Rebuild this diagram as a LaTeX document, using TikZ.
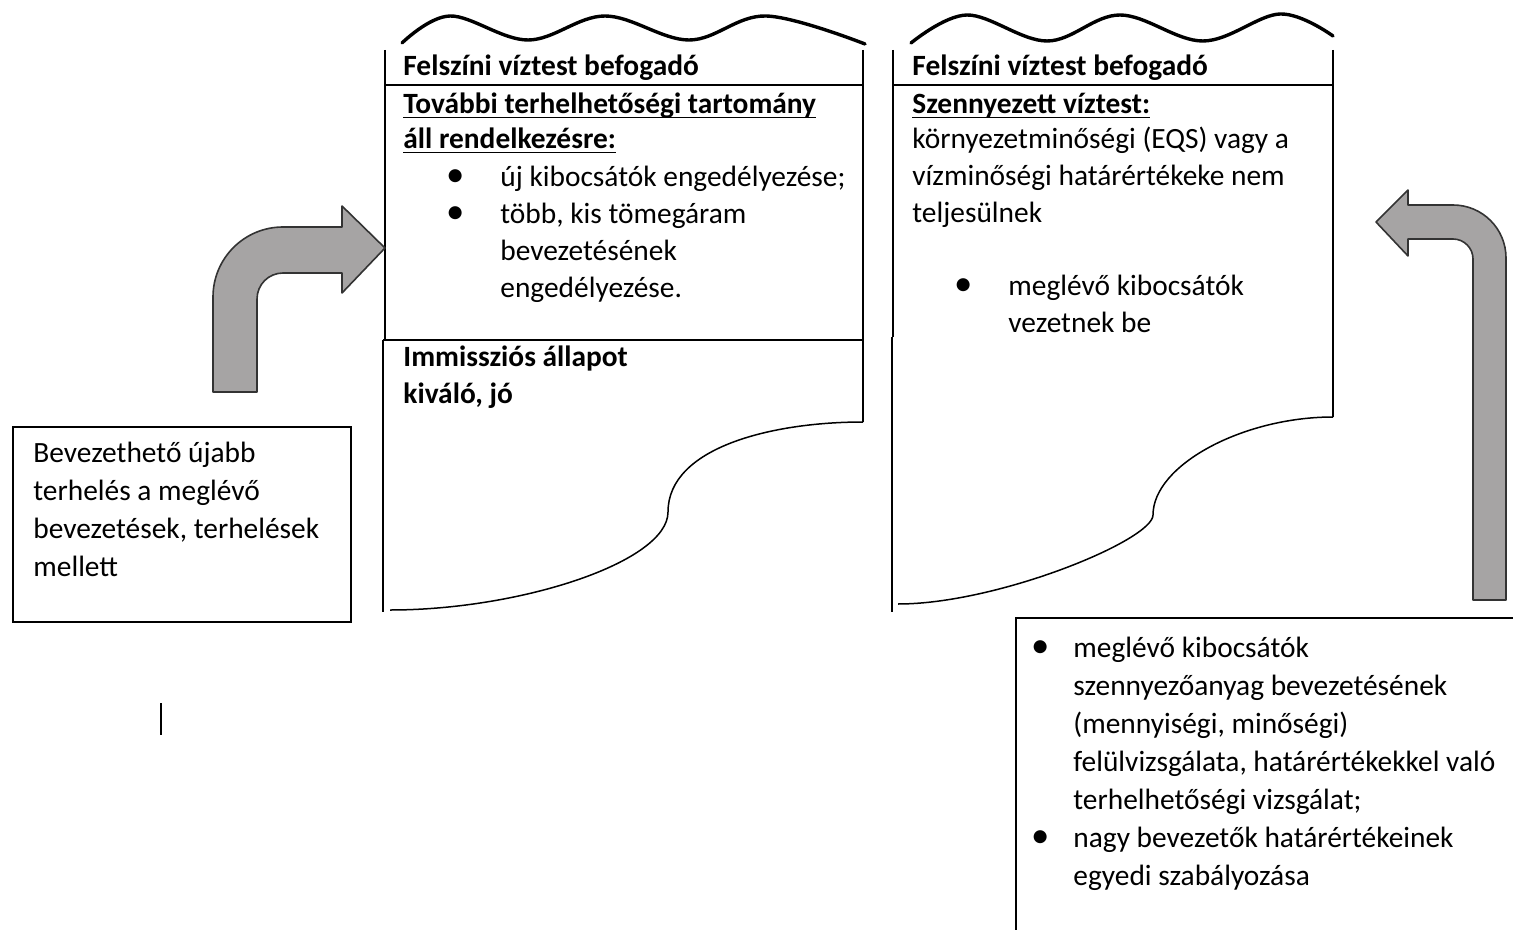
\documentclass[tikz,border=0pt]{standalone}
\usepackage{fontspec}
\setmainfont{Carlito}
\usetikzlibrary{positioning}

\definecolor{arrowgray}{RGB}{166,164,164}
\newcommand{\bul}[1]{\llap{\scalebox{1.25}{\textbullet}\hspace{#1}}}
\newcommand{\undl}[1]{\setbox0\hbox{#1}\rlap{\rule[-2.5pt]{\wd0}{0.9pt}}\box0}

\tikzset{
  doctext/.style={anchor=north west, inner sep=0pt, align=left, font=\fontsize{14.7}{18.5}\selectfont},
  boxtext/.style={doctext, font=\fontsize{14.7}{19}\selectfont},
  docline/.style={line width=0.75pt},
  waveline/.style={line width=1.7pt, line cap=round},
  bigarrow/.style={fill=arrowgray, draw=black!80, line width=0.8pt, line join=round},
}

\begin{document}
\begin{tikzpicture}[x=0.5pt, y=-0.5pt]
	\useasboundingbox (0,0) rectangle (1513,930);

	% left water body
	\draw[waveline] plot[smooth, tension=0.6] coordinates {(402,43) (450,16) (528,40) (605,16) (689,40) (766,16) (865,44)};
	\draw[docline] (385,50) -- (385,340);
	\draw[docline] (383,340) -- (383,612);
	\draw[docline] (863,50) -- (863,422);
	\draw[docline] (385,85) -- (863,85);
	\draw[docline] (383,340) -- (863,340);
	\draw[docline] (863,422) .. controls (773,422) and (668,447) .. (668,512)
	  .. controls (668,562) and (520,610) .. (390,610);

	\node[doctext] (headL) at (403,49.1) {\strut\textbf{Felszíni víztest befogadó}};
	\node[doctext] (capL) at (403,87.1) {\strut\undl{\textbf{További terhelhetőségi tartomány}}\\[-1pt]
	  \undl{\textbf{áll rendelkezésre:}}};
	\node[doctext] (listL) at (500,160.6) {\strut\bul{18pt}új kibocsátók engedélyezése;\\
	  \bul{18pt}több, kis tömegáram\\ bevezetésének\\ engedélyezése.};
	\node[doctext] (stateL) at (403,340.1) {\strut\textbf{Immissziós állapot}\\ \textbf{kiváló, jó}};

	% right water body
	\draw[waveline] plot[smooth, tension=0.6] coordinates {(911,43) (967,15) (1047,41) (1120,15) (1203,41) (1280,14) (1333,36)};
	\draw[docline] (893,50) -- (893,337);
	\draw[docline] (892,337) -- (892,612);
	\draw[docline] (1333,50) -- (1333,417);
	\draw[docline] (893,85) -- (1333,85);
	\draw[docline] (1333,417) .. controls (1243,417) and (1153,465) .. (1153,515)
	  .. controls (1153,540) and (998,604) .. (898,604);

	\node[doctext] (headR) at (912,49.1) {\strut\textbf{Felszíni víztest befogadó}};
	\node[doctext] (capR) at (912,87.1) {\strut\undl{\textbf{Szennyezett víztest:}}\\[-1pt]
	  környezetminőségi (EQS) vagy a\\ vízminőségi határértékeke nem\\ teljesülnek};
	\node[doctext] (listR) at (1008,269.1) {\strut\bul{18pt}meglévő kibocsátók\\ vezetnek be};

	% bent arrows
	\draw[bigarrow] (213,392) -- (213,297) .. controls (213,258.3) and (244.3,227) .. (283,227)
	  -- (342,227) -- (342,206) -- (385,248) -- (342,293) -- (342,273) -- (283,273)
	  .. controls (268.6,273) and (257,284.6) .. (257,299) -- (257,392) -- cycle;
	\draw[bigarrow] (1506,600) -- (1506,258) .. controls (1506,228.7) and (1482.3,205) .. (1453,205)
	  -- (1408,205) -- (1408,190) -- (1376,222) -- (1408,256) -- (1408,239) -- (1453,239)
	  .. controls (1464,239) and (1473,248) .. (1473,259) -- (1473,600) -- cycle;

	% text boxes
	\draw[docline] (13,427) rectangle (351,622);
	\node[boxtext] (loadL) at (33,435.4) {\strut Bevezethető újabb\\ terhelés a meglévő\\
	  bevezetések, terhelések\\ mellett};
	\draw[docline] (1513,618) -- (1016,618) -- (1016,930);
	\node[boxtext] (tasksR) at (1073,630.4) {\strut\bul{12pt}meglévő kibocsátók\\
	  szennyezőanyag bevezetésének\\ (mennyiségi, minőségi)\\
	  felülvizsgálata, határértékekkel való\\ terhelhetőségi vizsgálat;\\
	  \bul{12pt}nagy bevezetők határértékeinek\\ egyedi szabályozása};

	\draw[docline] (161,703) -- (161,735); % cursor mark
\end{tikzpicture}
\end{document}
